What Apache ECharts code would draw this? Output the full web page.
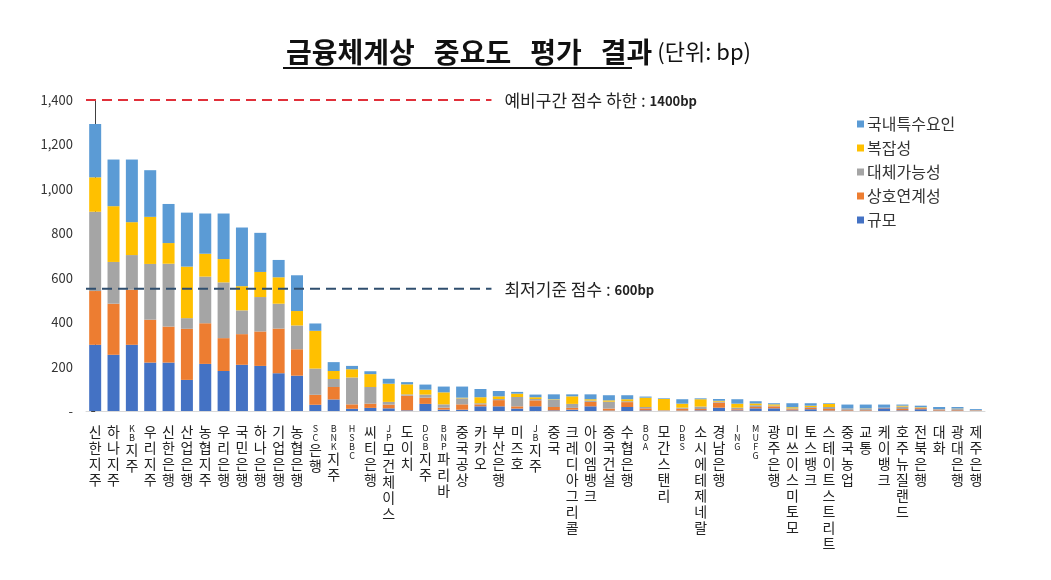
<!DOCTYPE html>
<html>
<head>
<meta charset="utf-8">
<title>금융체계상 중요도 평가 결과</title>
<script src="https://cdn.jsdelivr.net/npm/echarts@6/dist/echarts.min.js"></script>
<style>
html, body { margin: 0; padding: 0; background: #fff; }
#main { width: 1051px; height: 580px; }
</style>
</head>
<body>
<div id="main"></div>
<script type="text/javascript">
// 기관명 (막대 순서대로)
var categories = ['신한지주', '하나지주', 'KB지주', '우리지주', '신한은행', '산업은행', '농협지주', '우리은행',
    '국민은행', '하나은행', '기업은행', '농협은행', 'SC은행', 'BNK지주', 'HSBC', '씨티은행', 'JP모건체이스',
    '도이치', 'DGB지주', 'BNP파리바', '중국공상', '카카오', '부산은행', '미즈호', 'JB지주', '중국',
    '크레디아그리콜', '아이엠뱅크', '중국건설', '수협은행', 'BOA', '모간스탠리', 'DBS', '소시에테제네랄',
    '경남은행', 'ING', 'MUFG', '광주은행', '미쓰이스미토모', '토스뱅크', '스테이트스트리트', '중국농업',
    '교통', '케이뱅크', '호주뉴질랜드', '전북은행', '대화', '광대은행', '제주은행'];

// 항목별 점수 (bp), 그림에서 읽은 값
var scaleVals    = [298, 253, 298, 218, 218, 140, 212, 180, 208, 203, 170, 159, 28, 52, 10, 14, 12, 3, 32, 6, 6, 21, 21, 11, 21, 3, 6, 21, 2, 18, 3, 0, 2, 3, 15, 3, 12, 12, 3, 8, 2, 2, 2, 12, 3, 8, 2, 2, 1];
var linkVals     = [242, 230, 248, 193, 162, 230, 183, 148, 138, 155, 201, 119, 45, 56, 20, 19, 17, 66, 28, 9, 24, 9, 28, 10, 27, 15, 8, 20, 9, 22, 9, 2, 8, 6, 23, 5, 6, 9, 5, 6, 7, 3, 3, 2, 6, 5, 4, 3, 2];
var substVals    = [357, 188, 156, 251, 283, 48, 210, 251, 107, 155, 112, 107, 118, 36, 121, 75, 12, 6, 14, 15, 27, 5, 5, 42, 6, 33, 18, 6, 31, 4, 6, 2, 5, 11, 4, 7, 8, 3, 4, 4, 9, 7, 6, 1, 11, 2, 3, 5, 2];
var complexVals  = [155, 251, 148, 212, 93, 232, 103, 105, 109, 113, 119, 65, 170, 36, 37, 58, 82, 45, 22, 54, 3, 27, 12, 15, 8, 2, 34, 6, 6, 9, 42, 50, 18, 33, 4, 18, 8, 6, 5, 6, 14, 0, 1, 0, 4, 2, 0, 1, 0];
var domesticVals = [240, 210, 282, 210, 176, 243, 181, 205, 264, 176, 78, 161, 33, 40, 15, 13, 22, 10, 23, 26, 50, 37, 24, 8, 12, 22, 9, 22, 23, 18, 5, 3, 20, 4, 8, 20, 10, 5, 18, 11, 3, 17, 17, 14, 5, 7, 9, 7, 4];

var seriesNames  = ['규모', '상호연계성', '대체가능성', '복잡성', '국내특수요인'];
var seriesColors = ['#4472C4', '#ED7D31', '#A5A5A5', '#FFC000', '#5B9BD5'];

// 기준선
var upperLine = 1400;   // 예비구간 점수 하한
var lowerLine = 550;    // 최저기준 점수 (원 그림에서 선이 550 부근에 그려져 있음)
var lineEnd = 21.6;     // 점선은 22번째 막대 부근에서 끝남

var KO = '"Noto Sans CJK KR", "Noto Sans", sans-serif';

// 세로쓰기 라벨: 한 글자씩 줄바꿈, 영문은 작게
function vertLabel(name) {
    var out = [];
    for (var i = 0; i < name.length; i++) {
        var c = name.charAt(i);
        out.push(/[A-Za-z]/.test(c) ? '{en|' + c + '}' : '{ko|' + c + '}');
    }
    return out.join('\n');
}

var valueLists = [scaleVals, linkVals, substVals, complexVals, domesticVals];
var series = [];
for (var s = 0; s < seriesNames.length; s++) {
    series.push({
        name: seriesNames[s],
        type: 'bar',
        stack: 'total',
        barWidth: 12,
        itemStyle: { color: seriesColors[s] },
        data: valueLists[s]
    });
}

function refLine(val, color, text, num) {
    return {
        type: 'line',
        xAxisIndex: 1,
        yAxisIndex: 0,
        symbol: 'none',
        silent: true,
        lineStyle: { color: color, width: 2, type: [10, 6] },
        data: [[-0.5, val], [lineEnd, val]],
        endLabel: {
            show: true,
            distance: 13,
            offset: [0, 1],
            formatter: '{a|' + text + ' : }{b|' + num + '}',
            rich: {
                a: { fontFamily: KO, fontSize: 17, color: '#222' },
                b: { fontFamily: KO, fontSize: 13, fontWeight: 'bold', color: '#222' }
            }
        }
    };
}
series.push(refLine(upperLine, '#E0303A', '예비구간 점수 하한', '1400bp'));
series.push(refLine(lowerLine, '#2F4E6E', '최저기준 점수', '600bp'));

var myChart = echarts.init(document.getElementById('main'));
myChart.setOption({
    animation: false,
    backgroundColor: '#fff',
    title: {
        left: 281,
        top: 33,
        text: '{t|금융체계상   중요도   평가   결과}{s|(단위: bp)}',
        textStyle: {
            rich: {
                t: { fontFamily: KO, fontSize: 28, fontWeight: 'bold', color: '#111' },
                s: { fontFamily: KO, fontSize: 22, fontWeight: 'normal', color: '#111', padding: [0, 0, 0, 5] }
            }
        }
    },
    graphic: [{
        type: 'line',
        shape: { x1: 283, y1: 68, x2: 632, y2: 68 },
        style: { stroke: '#111', lineWidth: 2 }
    }],
    legend: {
        orient: 'vertical',
        left: 852,
        top: 111,
        itemWidth: 7,
        itemHeight: 7,
        itemGap: 8,
        icon: 'rect',
        data: ['국내특수요인', '복잡성', '대체가능성', '상호연계성', '규모'],
        textStyle: { fontFamily: KO, fontSize: 16, color: '#333', padding: [0, 0, 0, -2] }
    },
    grid: { left: 86, right: 66, top: 100, bottom: 169 },
    xAxis: [{
        type: 'category',
        data: categories,
        axisLine: { lineStyle: { color: '#D9D9D9', width: 1 } },
        axisTick: { show: false },
        axisLabel: {
            interval: 0,
            margin: 13,
            formatter: vertLabel,
            rich: {
                ko: { fontFamily: KO, fontSize: 14, lineHeight: 16, color: '#222' },
                en: { fontFamily: KO, fontSize: 9, lineHeight: 9, color: '#222' }
            }
        }
    }, {
        type: 'value',
        show: false,
        min: -0.5,
        max: categories.length - 0.5
    }],
    yAxis: {
        type: 'value',
        min: 0,
        max: 1400,
        interval: 200,
        splitLine: { show: false },
        axisLine: { show: true, lineStyle: { color: '#404040' } },
        axisTick: { show: true, length: 4, lineStyle: { color: '#404040' } },
        axisLabel: {
            margin: 13,
            fontFamily: KO,
            fontSize: 13,
            color: '#333',
            formatter: function (v) {
                return v === 0 ? '-' : v.toLocaleString('en-US');
            }
        }
    },
    series: series
});
</script>
</body>
</html>
